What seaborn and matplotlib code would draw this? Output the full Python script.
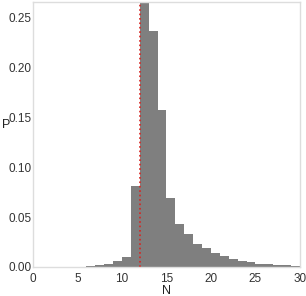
import numpy as np
import pandas as pd
import matplotlib
matplotlib.use("Agg")
import matplotlib.pyplot as plt
import seaborn as sns

# Histogram of N (bin width 1)
n_values = [6, 7, 8, 9, 10, 11, 12, 13, 14, 15, 16, 17, 18, 19, 20,
            21, 22, 23, 24, 25, 26, 27, 28, 29]
p_values = [0.0007, 0.0017, 0.0033, 0.0057, 0.0103, 0.081, 0.28, 0.236,
            0.157, 0.069, 0.043, 0.033, 0.023, 0.019, 0.014, 0.011,
            0.008, 0.006, 0.0047, 0.0033, 0.0027, 0.002, 0.0015, 0.001]
bin_edges = list(range(0, 31))
mark_n = 12

df = pd.DataFrame({"N": n_values, "P": p_values})

sns.set_theme(style="white")
plt.rcParams["font.family"] = ["Liberation Sans", "DejaVu Sans"]

fig = plt.figure(figsize=(3.06, 2.96), dpi=100)
ax = fig.add_axes([0.108, 0.098, 0.872, 0.895])

# step element gives one solid filled shape, like the reference
sns.histplot(data=df, x="N", weights="P", bins=bin_edges, stat="count",
             element="step", fill=True, color="#7f7f7f", alpha=1,
             linewidth=0, ax=ax)
ax.axvline(mark_n, color="#d8231f", linestyle=":", linewidth=1.2)

ax.set_xlim(0, 30)
ax.set_ylim(0, 0.265)
ax.set_xticks([0, 5, 10, 15, 20, 25, 30])
ax.set_yticks([0, 0.05, 0.10, 0.15, 0.20, 0.25])
ax.set_yticklabels(["0.00", "0.05", "0.10", "0.15", "0.20", "0.25"])
ax.tick_params(labelsize=8.5, colors="#333333", length=0)
ax.tick_params(axis="y", pad=1)
ax.tick_params(axis="x", pad=4)
ax.set_xlabel("N", fontsize=9, color="#222222", labelpad=0)
ax.set_ylabel("P", fontsize=9, color="#222222", rotation=0,
              ha="left", va="center")
ax.yaxis.set_label_coords(-0.118, 0.535)
for s in ax.spines.values():
    s.set_color("#dddddd")
    s.set_linewidth(1)

fig.savefig("out.png", dpi=100)
